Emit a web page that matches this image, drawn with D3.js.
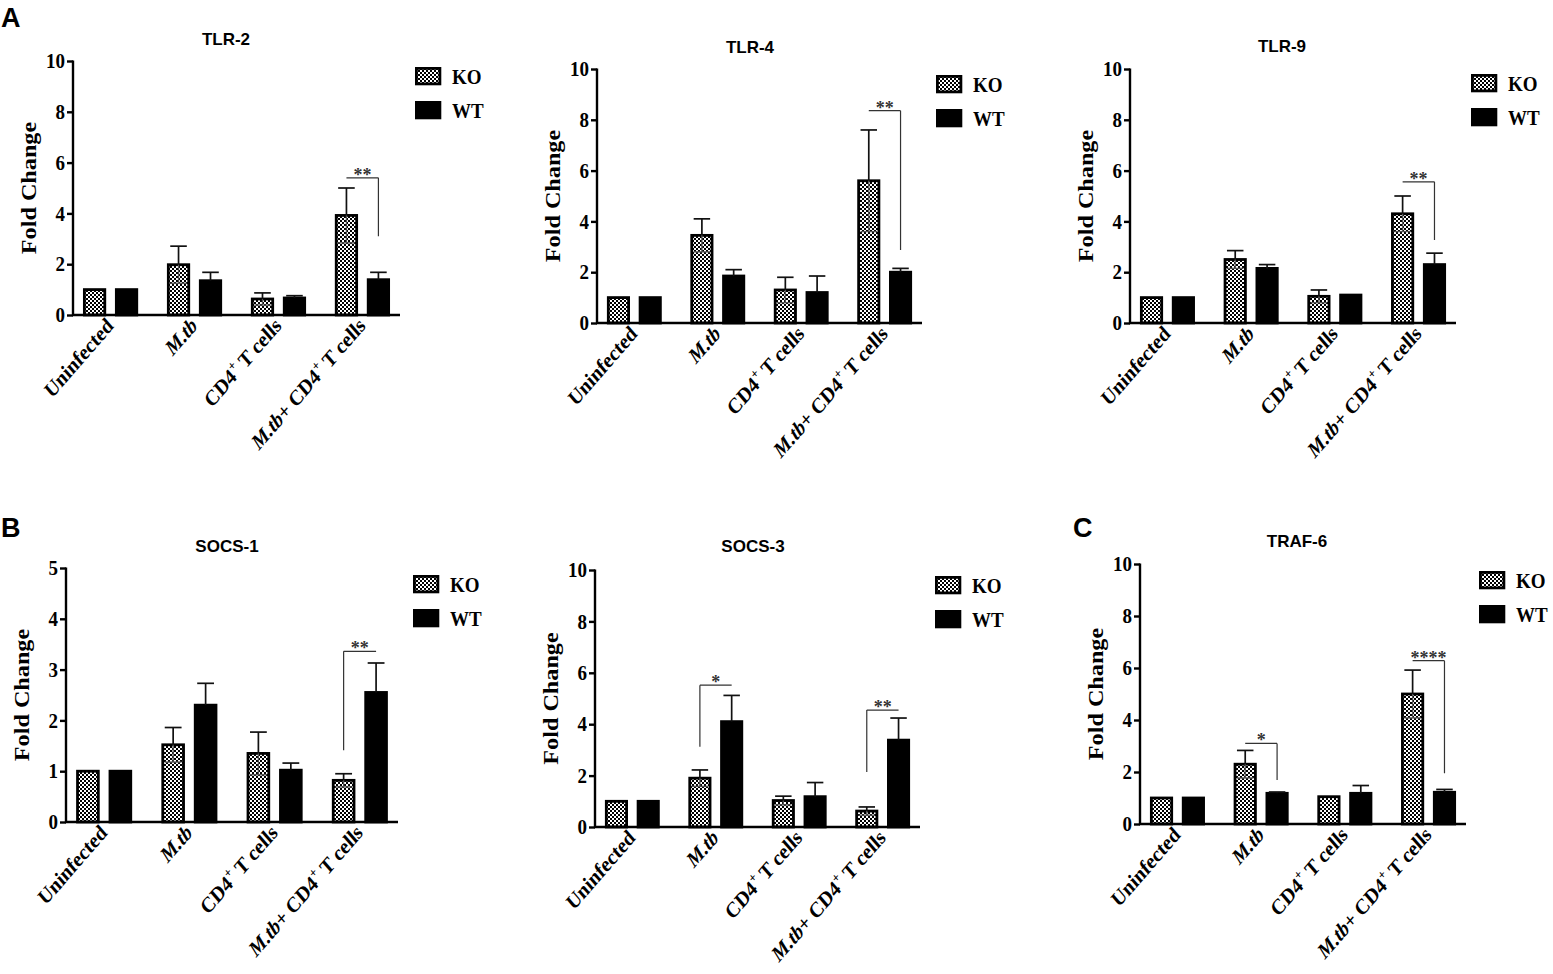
<!DOCTYPE html>
<html>
<head>
<meta charset="utf-8">
<script src="https://cdn.jsdelivr.net/npm/d3@7"></script>
<style>
  body { margin: 0; background: #fff; }
  .tick text { font-family: "Liberation Serif", serif; font-weight: bold; }
</style>
</head>
<body>
<div id="chart"></div>
<script>
// data
var categories = ["Uninfected", "M.tb", "CD4+ T cells", "M.tb+ CD4+ T cells"];
var groups = ["KO", "WT"];
var genes = ["TLR-2", "TLR-4", "TLR-9", "SOCS-1", "SOCS-3", "TRAF-6"];
var yMax = [10, 10, 10, 5, 10, 10];

var koMean = [
  [1.0, 1.98, 0.63, 3.92],
  [1.0, 3.45, 1.3, 5.6],
  [1.0, 2.5, 1.05, 4.3],
  [1.0, 1.52, 1.35, 0.82],
  [1.0, 1.9, 1.03, 0.62],
  [1.0, 2.3, 1.05, 5.0]
];
var koErr = [
  [0, 0.73, 0.24, 1.08],
  [0, 0.65, 0.5, 2.0],
  [0, 0.35, 0.25, 0.7],
  [0, 0.34, 0.42, 0.13],
  [0, 0.32, 0.17, 0.16],
  [0, 0.53, 0.02, 0.92]
];
var wtMean = [
  [1.0, 1.35, 0.67, 1.39],
  [1.0, 1.85, 1.2, 2.0],
  [1.0, 2.15, 1.1, 2.3],
  [1.0, 2.3, 1.02, 2.55],
  [1.0, 4.1, 1.18, 3.38],
  [1.0, 1.18, 1.18, 1.22]
];
var wtErr = [
  [0, 0.33, 0.09, 0.29],
  [0, 0.25, 0.65, 0.15],
  [0, 0.15, 0.02, 0.45],
  [0, 0.43, 0.14, 0.58],
  [0, 1.02, 0.55, 0.86],
  [0, 0.05, 0.3, 0.11]
];

// significance brackets: [category index, bar top value, drop end value, drop side, stars]
var sigMarks = [
  [[3, 5.4, 3.1, "WT", "**"]],
  [[3, 8.36, 2.87, "WT", "**"]],
  [[3, 5.56, 3.27, "WT", "**"]],
  [[3, 3.36, 1.41, "KO", "**"]],
  [[1, 5.52, 3.12, "KO", "*"], [3, 4.55, 2.14, "KO", "**"]],
  [[1, 3.1, 1.69, "WT", "*"], [3, 6.28, 1.95, "WT", "****"]]
];

// panel placement on the page
var panels = [
  {ax: 73,   xEnd: 400,  yTop: 61,  y0: 315, tx: 226,  ty: 45,  lx: 415,  ly: 67},
  {ax: 597,  xEnd: 922,  yTop: 69,  y0: 323, tx: 750,  ty: 53,  lx: 936,  ly: 75},
  {ax: 1130, xEnd: 1456, yTop: 69,  y0: 323, tx: 1282, ty: 52,  lx: 1471, ly: 74},
  {ax: 66,   xEnd: 398,  yTop: 568, y0: 822, tx: 227,  ty: 552, lx: 413,  ly: 575},
  {ax: 595,  xEnd: 920,  yTop: 570, y0: 827, tx: 753,  ty: 552, lx: 935,  ly: 576},
  {ax: 1140, xEnd: 1466, yTop: 564, y0: 824, tx: 1297, ty: 547, lx: 1479, ly: 571}
];

var svg = d3.select("#chart").append("svg")
  .attr("width", 1553)
  .attr("height", 974);

// checker fill for KO bars
var pat = svg.append("defs").append("pattern")
  .attr("id", "checker")
  .attr("width", 4).attr("height", 4)
  .attr("patternUnits", "userSpaceOnUse");
pat.append("rect").attr("width", 4).attr("height", 4).attr("fill", "#fff");
pat.append("rect").attr("width", 2).attr("height", 2).attr("fill", "#000");
pat.append("rect").attr("x", 2).attr("y", 2).attr("width", 2).attr("height", 2).attr("fill", "#000");

var serif = "'Liberation Serif', 'Times New Roman', serif";
var sans = "'Liberation Sans', Arial, sans-serif";

// panel letters
[["A", 1, 27], ["B", 1, 537], ["C", 1073, 537]].forEach(function(l) {
  svg.append("text")
    .attr("x", l[1]).attr("y", l[2])
    .attr("font-family", sans).attr("font-weight", "bold").attr("font-size", 27)
    .text(l[0]);
});

function catLabel(sel, name) {
  var sup = function(t) {
    t.append("tspan").attr("font-size", 12).attr("dy", -8).text("+");
    t.append("tspan").attr("dy", 8).text(" T cells");
  };
  if (name === "Uninfected") {
    sel.text(name);
  } else if (name === "M.tb") {
    sel.append("tspan").attr("font-style", "italic").text("M.tb");
  } else if (name === "CD4+ T cells") {
    sel.append("tspan").text("CD4");
    sup(sel);
  } else {
    sel.append("tspan").attr("font-style", "italic").text("M.tb");
    sel.append("tspan").text("+ CD4");
    sup(sel);
  }
}

genes.forEach(function(gene, gi) {
  var p = panels[gi];
  var g = svg.append("g");

  var x0 = d3.scaleBand().domain(categories)
    .range([p.ax, p.xEnd]).paddingInner(0.345).paddingOuter(0.12);
  var x1 = d3.scaleBand().domain(groups)
    .range([0, x0.bandwidth()]).paddingInner(0.28);
  var y = d3.scaleLinear().domain([0, yMax[gi]]).range([p.y0, p.yTop]);

  // title
  g.append("text")
    .attr("x", p.tx).attr("y", p.ty)
    .attr("text-anchor", "middle")
    .attr("font-family", sans).attr("font-weight", "bold").attr("font-size", 17)
    .text(gene);

  // y axis
  var yAxis = d3.axisLeft(y)
    .tickValues(d3.range(0, yMax[gi] + 0.001, yMax[gi] === 5 ? 1 : 2))
    .tickSize(6).tickPadding(2)
    .tickFormat(d3.format("d"));
  var ya = g.append("g")
    .attr("transform", "translate(" + p.ax + ",0)")
    .call(yAxis);
  ya.select(".domain").attr("stroke-width", 2.4).attr("d", "M0," + (p.yTop - 0.5) + "V" + (p.y0 + 1));
  ya.selectAll(".tick line").attr("stroke-width", 2.4);
  ya.selectAll(".tick text").attr("font-size", 19).attr("fill", "#000")
    .attr("transform", "scale(1,1.1)");

  // y label
  g.append("text")
    .attr("transform", "translate(" + (p.ax - 37) + "," + ((p.yTop + p.y0) / 2) + ") rotate(-90) scale(1.1,1)")
    .attr("text-anchor", "middle")
    .attr("font-family", serif).attr("font-weight", "bold").attr("font-size", 22)
    .text("Fold Change");

  var rows = categories.map(function(c, ci) {
    return [
      {cat: c, grp: "KO", mean: koMean[gi][ci], err: koErr[gi][ci]},
      {cat: c, grp: "WT", mean: wtMean[gi][ci], err: wtErr[gi][ci]}
    ];
  });
  var bars = [].concat.apply([], rows);
  var bx = function(d) { return x0(d.cat) + x1(d.grp); };
  var bw = x1.bandwidth();

  // bars
  g.selectAll("rect.bar").data(bars).enter().append("rect")
    .attr("class", "bar")
    .attr("x", function(d) { return bx(d) + 1.3; })
    .attr("width", bw - 2.6)
    .attr("y", function(d) { return y(d.mean); })
    .attr("height", function(d) { return y(0) - y(d.mean); })
    .attr("fill", function(d) { return d.grp === "KO" ? "url(#checker)" : "#000"; })
    .attr("stroke", "#000")
    .attr("stroke-width", 2.8);

  // error bars (upper part dark, lower part shows faintly through KO fill)
  var errs = bars.filter(function(d) { return d.err > 0.03; });
  var eg = g.selectAll("g.err").data(errs).enter().append("g").attr("class", "err");
  var cx = function(d) { return bx(d) + bw / 2; };
  var cap = bw * 0.36;
  eg.append("line")
    .attr("x1", cx).attr("x2", cx)
    .attr("y1", function(d) { return y(d.mean); })
    .attr("y2", function(d) { return y(d.mean + d.err); })
    .attr("stroke", "#111").attr("stroke-width", 1.7);
  eg.append("line")
    .attr("x1", function(d) { return cx(d) - cap; })
    .attr("x2", function(d) { return cx(d) + cap; })
    .attr("y1", function(d) { return y(d.mean + d.err); })
    .attr("y2", function(d) { return y(d.mean + d.err); })
    .attr("stroke", "#111").attr("stroke-width", 1.7);
  var low = eg.filter(function(d) { return d.grp === "KO"; });
  low.append("line")
    .attr("x1", cx).attr("x2", cx)
    .attr("y1", function(d) { return y(d.mean); })
    .attr("y2", function(d) { return y(Math.max(0, d.mean - d.err)); })
    .attr("stroke", "#555").attr("stroke-width", 1.3);
  low.append("line")
    .attr("x1", function(d) { return cx(d) - cap; })
    .attr("x2", function(d) { return cx(d) + cap; })
    .attr("y1", function(d) { return y(Math.max(0, d.mean - d.err)); })
    .attr("y2", function(d) { return y(Math.max(0, d.mean - d.err)); })
    .attr("stroke", "#555").attr("stroke-width", 1.3);

  // x axis line
  g.append("line")
    .attr("x1", p.ax - 1).attr("x2", p.xEnd)
    .attr("y1", y(0)).attr("y2", y(0))
    .attr("stroke", "#000").attr("stroke-width", 2.6);

  // category labels (figure is slightly stretched vertically)
  categories.forEach(function(c) {
    var t = g.append("text")
      .attr("transform", "translate(" + (x0(c) + x0.bandwidth() / 2 + 4) + "," + (p.y0 + 12) + ") scale(1,1.15) rotate(-45)")
      .attr("text-anchor", "end")
      .attr("font-family", serif).attr("font-weight", "bold").attr("font-size", 19);
    catLabel(t, c);
  });

  // significance brackets
  sigMarks[gi].forEach(function(s) {
    var cat = categories[s[0]];
    var xk = x0(cat) + x1("KO") + bw / 2;
    var xw = x0(cat) + x1("WT") + bw / 2;
    var xd = s[3] === "KO" ? xk : xw;
    g.append("path")
      .attr("d", "M" + xk + "," + y(s[1]) + "H" + xw + "M" + xd + "," + y(s[1]) + "V" + y(s[2]))
      .attr("fill", "none").attr("stroke", "#333").attr("stroke-width", 1.2);
    g.append("text")
      .attr("x", (xk + xw) / 2).attr("y", y(s[1]) + 3)
      .attr("text-anchor", "middle")
      .attr("font-family", serif).attr("font-weight", "bold").attr("font-size", 18).attr("fill", "#333")
      .text(s[4]);
  });

  // legend
  groups.forEach(function(grp, i) {
    var ly = p.ly + i * 34;
    g.append("rect")
      .attr("x", p.lx + 1.4).attr("y", ly + 1.4)
      .attr("width", 23.5).attr("height", 15.5)
      .attr("fill", grp === "KO" ? "url(#checker)" : "#000")
      .attr("stroke", "#000").attr("stroke-width", 2.8);
    g.append("text")
      .attr("transform", "translate(" + (p.lx + 37) + "," + (ly + 17) + ") scale(1,1.1)")
      .attr("font-family", serif).attr("font-weight", "bold").attr("font-size", 19)
      .text(grp);
  });
});
</script>
</body>
</html>
